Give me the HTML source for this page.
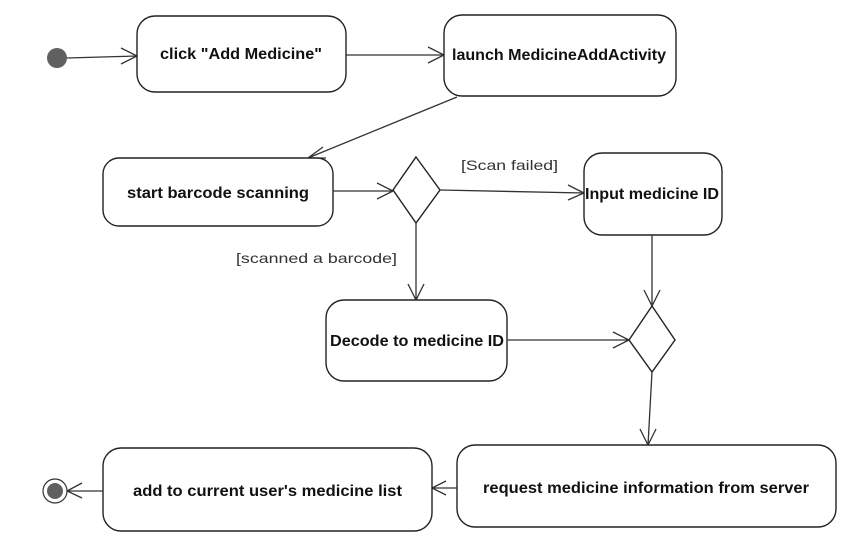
<!DOCTYPE html>
<html><head><meta charset="utf-8"><style>
html,body{margin:0;padding:0;background:#fff;}
svg{display:block;}
.b{fill:#fff;stroke:#222;stroke-width:1.4;}
.l{stroke:#333;stroke-width:1.3;fill:none;}
.t{font-family:"Liberation Sans",Arial,sans-serif;font-weight:bold;font-size:16px;fill:#111;}
.g{font-family:"Liberation Sans",Arial,sans-serif;font-size:14px;fill:#333;}
</style></head><body>
<svg width="866" height="560" viewBox="0 0 866 560" xmlns="http://www.w3.org/2000/svg">
<circle cx="57" cy="58" r="10" fill="#606060"/>
<path class="l" d="M67 58 L137 56 M121 48 L137 56 L121 64"/>
<rect class="b" x="137" y="16" width="209" height="76" rx="18"/>
<text class="t" x="160" y="59" textLength="162" lengthAdjust="spacingAndGlyphs">click "Add Medicine"</text>
<path class="l" d="M346 55 L444 55 M428 47 L444 55 L428 63"/>
<rect class="b" x="444" y="15" width="232" height="81" rx="18"/>
<text class="t" x="452" y="60" textLength="214" lengthAdjust="spacingAndGlyphs">launch MedicineAddActivity</text>
<path class="l" d="M457 97 L308 158 M323 147 L308 158 L326 158"/>
<rect class="b" x="103" y="158" width="230" height="68" rx="16"/>
<text class="t" x="127" y="198" textLength="182" lengthAdjust="spacingAndGlyphs">start barcode scanning</text>
<path class="l" d="M333 191 L393 191 M377 183 L393 191 L377 199"/>
<polygon class="b" points="416,157 440,190 416,223 393,190"/>
<path class="l" d="M440 190 L584 193 M568 185 L584 193 L568 200"/>
<text class="g" x="461" y="170" textLength="97" lengthAdjust="spacingAndGlyphs">[Scan failed]</text>
<path class="l" d="M416 223 L416 300 M408 284 L416 300 L424 284"/>
<text class="g" x="236" y="263" textLength="161" lengthAdjust="spacingAndGlyphs">[scanned a barcode]</text>
<rect class="b" x="584" y="153" width="138" height="82" rx="18"/>
<text class="t" x="585" y="199" textLength="134" lengthAdjust="spacingAndGlyphs">Input medicine ID</text>
<path class="l" d="M652 235 L652 306 M644 290 L652 306 L660 290"/>
<rect class="b" x="326" y="300" width="181" height="81" rx="18"/>
<text class="t" x="330" y="346" textLength="174" lengthAdjust="spacingAndGlyphs">Decode to medicine ID</text>
<path class="l" d="M507 340 L629 340 M613 332 L629 340 L613 348"/>
<polygon class="b" points="652,306 675,340 652,372 629,340"/>
<path class="l" d="M652 372 L648 445 M640 429 L648 445 L656 429"/>
<rect class="b" x="457" y="445" width="379" height="82" rx="18"/>
<text class="t" x="483" y="493" textLength="326" lengthAdjust="spacingAndGlyphs">request medicine information from server</text>
<path class="l" d="M457 488 L432 488 M446 481 L432 488 L446 495"/>
<rect class="b" x="103" y="448" width="329" height="83" rx="18"/>
<text class="t" x="133" y="496" textLength="269" lengthAdjust="spacingAndGlyphs">add to current user's medicine list</text>
<path class="l" d="M103 491 L67 491 M82 483 L67 491 L82 498"/>
<circle cx="55" cy="491" r="12" fill="#fff" stroke="#333" stroke-width="1.2"/>
<circle cx="55" cy="491" r="8" fill="#606060"/>
</svg>
</body></html>
